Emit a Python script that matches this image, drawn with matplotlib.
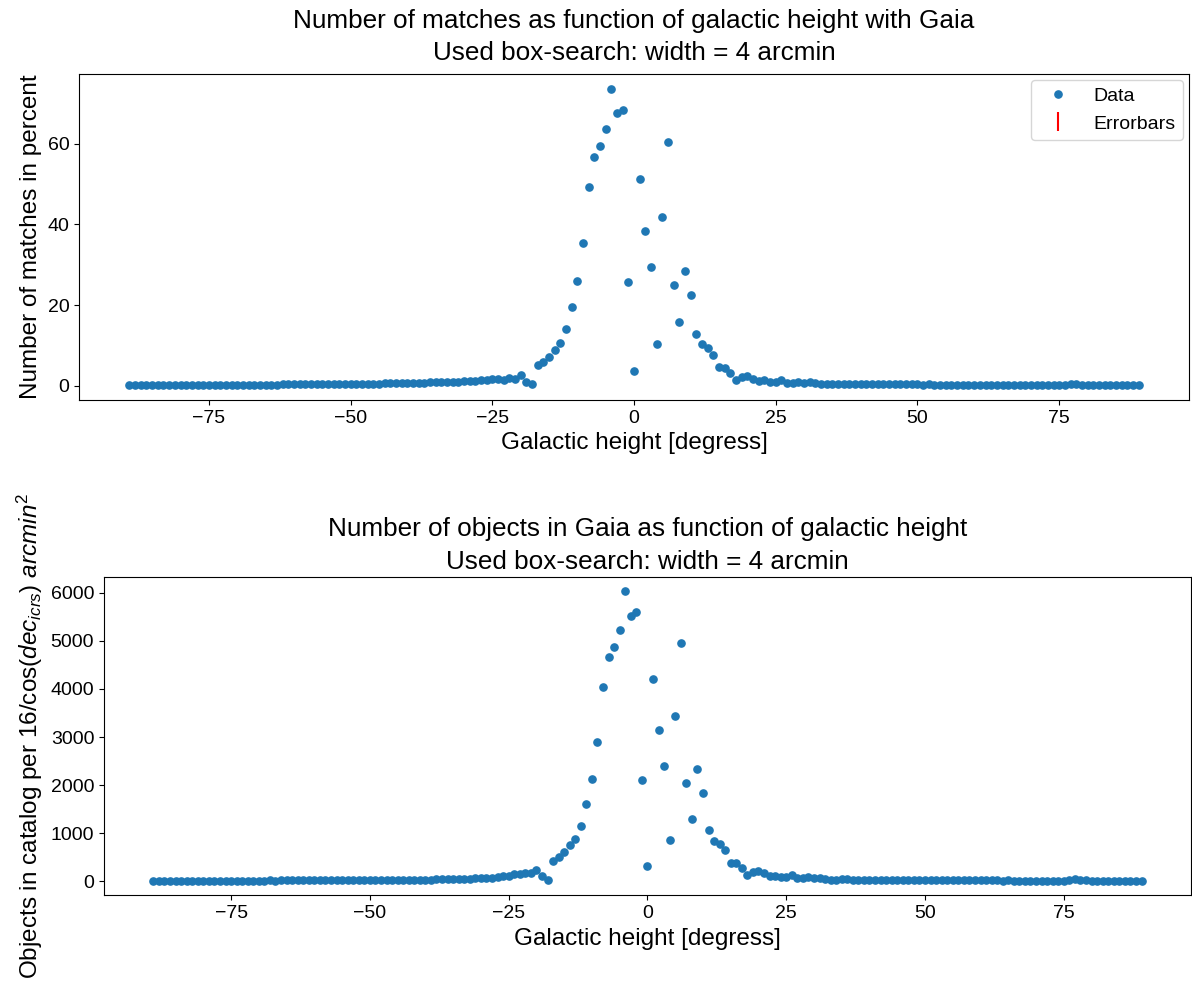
import numpy as np
import matplotlib
matplotlib.use('Agg')
import matplotlib.pyplot as plt

plt.rcParams['font.family'] = ['Liberation Sans', 'DejaVu Sans']
plt.rcParams['mathtext.fontset'] = 'custom'
plt.rcParams['mathtext.rm'] = 'Liberation Sans'
plt.rcParams['mathtext.it'] = 'Liberation Sans:italic'

# ── data ──────────────────────────────────────────────────────────────────────
gal_height = np.arange(-89, 90)   # degrees, one bin per degree

match_percent = [
    0.12, 0.10, 0.13, 0.11, 0.12, 0.14, 0.12, 0.13, 0.15, 0.13,
    0.14, 0.16, 0.15, 0.17, 0.16, 0.18, 0.17, 0.19, 0.18, 0.20,
    0.21, 0.20, 0.22, 0.23, 0.22, 0.25, 0.24, 0.26, 0.27, 0.28,
    0.27, 0.30, 0.31, 0.30, 0.33, 0.35, 0.34, 0.37, 0.39, 0.40,
    0.42, 0.44, 0.46, 0.48, 0.50, 0.52, 0.55, 0.57, 0.60, 0.63,
    0.66, 0.70, 0.73, 0.76, 0.80, 0.84, 0.88, 0.93, 0.98, 1.04,
    1.10, 1.18, 1.28, 1.40, 1.55, 1.70, 1.45, 1.84, 1.70, 2.50,
    0.85, 0.30, 5.0, 5.85, 7.1, 8.9, 10.5, 14.1, 19.6, 25.9,
    35.3, 49.2, 56.8, 59.5, 63.8, 73.7, 67.6, 68.4, 25.6, 3.7,
    51.4, 38.3, 29.4, 10.2, 41.9, 60.6, 24.9, 15.7, 28.5, 22.4,
    12.9, 10.2, 9.3, 7.7, 4.5, 4.4, 3.2, 1.3, 2.0, 2.4,
    1.7, 1.1, 1.3, 0.95, 0.9, 1.4, 0.7, 0.75, 0.95, 0.7,
    0.85, 0.55, 0.40, 0.38, 0.45, 0.50, 0.45, 0.40, 0.38, 0.36,
    0.35, 0.33, 0.34, 0.31, 0.30, 0.31, 0.28, 0.27, 0.29, 0.26,
    0.25, 0.26, 0.24, 0.22, 0.23, 0.21, 0.22, 0.20, 0.21, 0.19,
    0.20, 0.18, 0.19, 0.17, 0.18, 0.16, 0.17, 0.15, 0.16, 0.15,
    0.14, 0.15, 0.13, 0.14, 0.16, 0.25, 0.45, 0.30, 0.18, 0.14,
    0.13, 0.12, 0.13, 0.11, 0.12, 0.10, 0.11, 0.10, 0.10,
]

gaia_counts = [
    12, 10, 13, 11, 12, 14, 12, 13, 15, 13,
    14, 15, 14, 16, 15, 17, 16, 18, 17, 19,
    18, 20, 19, 21, 20, 22, 21, 23, 22, 24,
    23, 25, 24, 26, 25, 27, 26, 28, 27, 29,
    28, 30, 29, 31, 32, 33, 34, 35, 37, 38,
    40, 42, 44, 46, 49, 52, 55, 58, 62, 66,
    70, 76, 90, 105, 120, 160, 152, 166, 166, 228,
    104, 35, 422, 505, 609, 754, 886, 1162, 1619, 2137,
    2898, 4039, 4655, 4862, 5222, 6024, 5520, 5603, 2103, 311,
    4205, 3140, 2407, 851, 3431, 4952, 2054, 1300, 2345, 1847,
    1065, 840, 768, 643, 385, 385, 280, 131, 198, 214,
    166, 111, 111, 90, 90, 131, 76, 76, 97, 76,
    80, 45, 35, 40, 45, 42, 38, 36, 35, 34,
    33, 32, 33, 31, 30, 31, 29, 28, 29, 27,
    26, 27, 25, 24, 25, 23, 24, 22, 23, 21,
    22, 20, 21, 19, 20, 19, 18, 19, 17, 18,
    17, 18, 16, 17, 19, 28, 45, 30, 20, 17,
    16, 15, 16, 14, 15, 13, 14, 13, 13,
]

match_err = np.zeros(len(match_percent))   # errorbars too small to show

# ── figure ────────────────────────────────────────────────────────────────────
fig = plt.figure(figsize=(11.92, 9.81), dpi=100)
ax1 = fig.add_axes([0.0663, 0.5923, 0.9312, 0.3323])
ax2 = fig.add_axes([0.0872, 0.0872, 0.9119, 0.3247])

TICK_FS, LABEL_FS, TITLE_FS, LEGEND_FS = 14, 17.5, 18.8, 14
MS = 5.2

# top: matches in percent
ax1.plot(gal_height, match_percent, 'o', ms=MS, color='tab:blue',
         label='Data', zorder=3)
ax1.errorbar(gal_height, match_percent, yerr=match_err, fmt='none',
             ecolor='red', label='Errorbars', zorder=2)
ax1.set_title('Number of matches as function of galactic height with Gaia\n'
              'Used box-search: width = 4 arcmin', fontsize=TITLE_FS,
              linespacing=1.45, pad=10)
ax1.set_xlabel('Galactic height [degress]', fontsize=LABEL_FS)
ax1.set_ylabel('Number of matches in percent', fontsize=LABEL_FS)
ax1.set_yticks([0, 20, 40, 60])
ax1.legend(loc='upper right', fontsize=LEGEND_FS, borderaxespad=0.3)

# bottom: Gaia object counts
ax2.plot(gal_height, gaia_counts, 'o', ms=MS, color='tab:blue')
ax2.set_title('Number of objects in Gaia as function of galactic height\n'
              'Used box-search: width = 4 arcmin', fontsize=TITLE_FS,
              linespacing=1.45)
ax2.set_xlabel('Galactic height [degress]', fontsize=LABEL_FS)
ax2.set_ylabel(r'Objects in catalog per 16/cos($dec_{icrs}$) $arcmin^2$',
               fontsize=LABEL_FS)

for ax in (ax1, ax2):
    ax.set_xticks([-75, -50, -25, 0, 25, 50, 75])
    ax.tick_params(labelsize=TICK_FS)

fig.savefig('out.png', dpi=100)
